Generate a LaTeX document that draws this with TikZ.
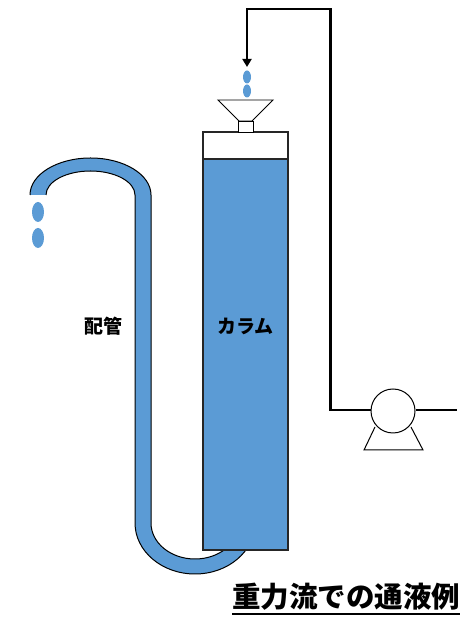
\documentclass[tikz,border=0pt]{standalone}
\usepackage{fontspec}
\newfontfamily\jpfont{Noto Sans CJK JP}
\usetikzlibrary{arrows.meta}
\definecolor{liquid}{HTML}{5B9BD5}
\tikzset{
  outline/.style={draw=black!85, line width=1.1pt},
  liquidfill/.style={fill=liquid},
  feedline/.style={draw=black, line width=2.2pt},
  label/.style={font=\jpfont\bfseries\fontsize{19}{19}\selectfont, inner sep=0pt},
}
% tube path: open at the spout end
\def\tubepath{(30,423) arc[start angle=180, end angle=0, x radius=60.5, y radius=37]
  -- (151,95) arc[start angle=180, end angle=360, x radius=44, y radius=36]
  -- (255,95) arc[start angle=0, end angle=-180, x radius=60, y radius=51]
  -- (135,423) arc[start angle=0, end angle=180, x radius=44.5, y radius=24]}
\begin{document}
\begin{tikzpicture}[x=1pt, y=1pt]
\useasboundingbox (0,0) rectangle (461,618);

% gravity-fed tube
\fill[liquid] \tubepath -- cycle;
\draw[black, line width=1pt] \tubepath;

% spout drops
\fill[liquid] (38,406) ellipse[x radius=6, y radius=10];
\fill[liquid] (38,380) ellipse[x radius=6, y radius=10];

% column
\draw[outline, fill=white] (203,459) rectangle (288,486);
\draw[outline, liquidfill] (203,68) rectangle (288,459);
\node[label] (colname) at (245.5,292) {カラム};
\node[label] (pipename) at (103,292) {配管};

% funnel
\draw[black, line width=0.9pt, fill=white] (218,518) -- (273,518) -- (252,497) -- (239,497) -- cycle;
\draw[black, line width=0.9pt, fill=white] (238,486) rectangle (253,497);

% drops into funnel
\fill[liquid] (247,541) ellipse[x radius=4, y radius=6.5];
\fill[liquid] (247,527) ellipse[x radius=4, y radius=6.5];

% pump
\node[circle, draw=black, line width=1pt, minimum size=44pt, inner sep=0pt, fill=white] (pump) at (393,207) {};
\draw[black, line width=1pt] (375,191) -- (364,168) -- (423,168) -- (411,191);
\coordinate (outlet) at (457,208);
\coordinate (riser) at (330.5,208);
\coordinate (feedtop) at (330.5,609);
\coordinate (drip) at (247,551);
\draw[feedline] (pump.east |- outlet) -- (outlet);
\draw[feedline, -{Triangle[length=8pt, width=9pt]}] (pump.west |- riser) -- (riser) -- (feedtop) -| (drip);

% caption
\node[font=\jpfont\bfseries\fontsize{28.5}{28.5}\selectfont, inner sep=0pt, anchor=west] (caption) at (232,21) {重力流での通液例};
\draw[black, line width=2pt] ([yshift=-3pt]caption.south west) -- ([yshift=-3pt]caption.south east);
\end{tikzpicture}
\end{document}
